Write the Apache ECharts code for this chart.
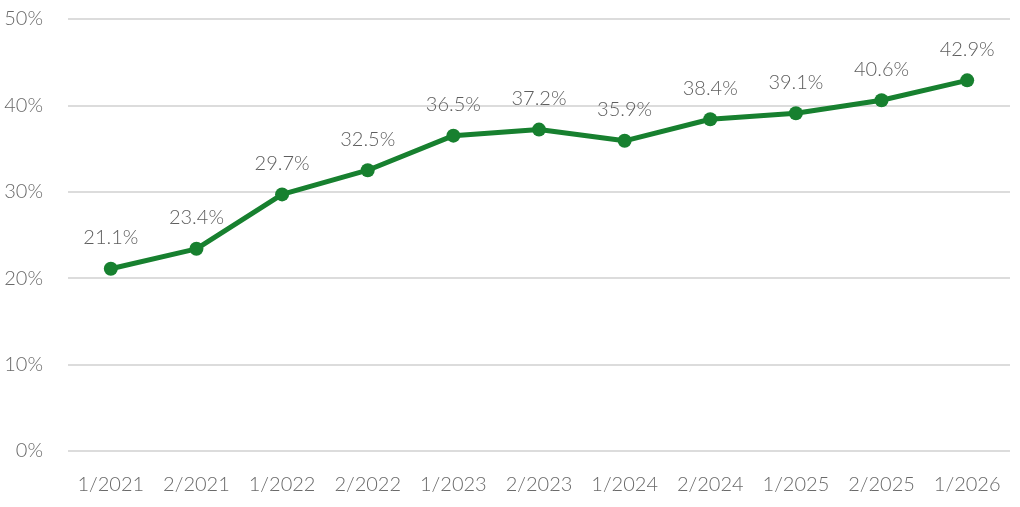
<!DOCTYPE html>
<html><head><meta charset="utf-8">
<script src="https://cdn.jsdelivr.net/npm/echarts@6/dist/echarts.min.js"></script>
<style>html,body{margin:0;padding:0;background:#fff}#c{width:1020px;height:507px}</style>
</head><body><div id="c"></div>
<script>
const categories = ['1/2021','2/2021','1/2022','2/2022','1/2023','2/2023','1/2024','2/2024','1/2025','2/2025','1/2026'];
const values = [21.1, 23.4, 29.7, 32.5, 36.5, 37.2, 35.9, 38.4, 39.1, 40.6, 42.9];
const chart = echarts.init(document.getElementById('c'));
const font = 'Lato, "Open Sans", sans-serif';
chart.setOption({
  animation: false,
  grid: {left: 68, right: 10, top: 19, bottom: 56, containLabel: false},
  xAxis: {
    type: 'category', data: categories, boundaryGap: true,
    axisLine: {show: false}, axisTick: {show: false},
    axisLabel: {interval: 0, color: '#6a6a6a', fontSize: 20, fontWeight: 300, fontFamily: font, margin: 24}
  },
  yAxis: {
    type: 'value', min: 0, max: 50, interval: 10,
    axisLine: {show: false}, axisTick: {show: false},
    axisLabel: {color: '#6a6a6a', fontSize: 20, fontWeight: 300, fontFamily: font, margin: 25, formatter: '{value}%'},
    splitLine: {lineStyle: {color: '#dcdcdc', width: 2}}
  },
  series: [{
    type: 'line', data: values,
    lineStyle: {color: '#17802f', width: 5},
    itemStyle: {color: '#17802f'},
    symbol: 'circle', symbolSize: 14,
    label: {show: true, position: 'top', distance: 14, color: '#5e5e5e', fontSize: 20, fontWeight: 300, fontFamily: font,
      formatter: p => p.value.toFixed(1) + '%'}
  }]
});
</script></body></html>
